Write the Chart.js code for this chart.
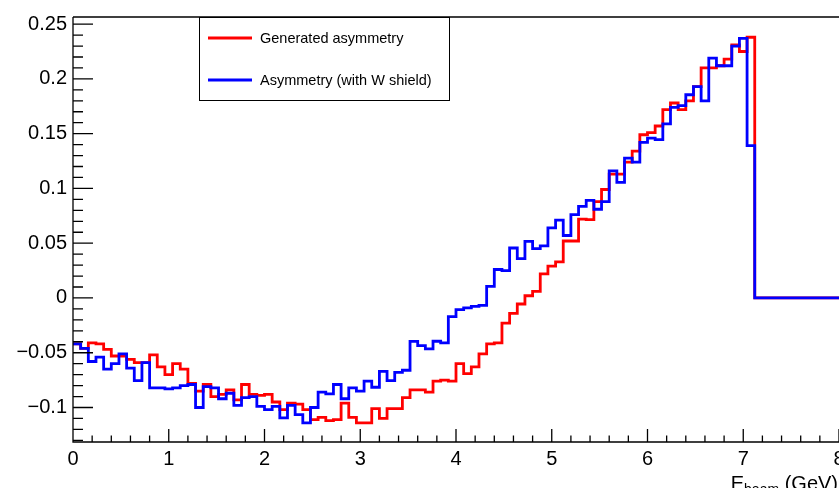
<!DOCTYPE html>
<html>
<head>
<meta charset="utf-8">
<script src="https://cdn.jsdelivr.net/npm/chart.js@4.4.1/dist/chart.umd.min.js"></script>
<style>
html,body{margin:0;padding:0;background:#fff;}
#wrap{width:839px;height:488px;position:relative;}
canvas{display:block;}
</style>
</head>
<body>
<div id="wrap"><canvas id="c" width="839" height="488"></canvas></div>
<script>
// ---- data (100 bins, 0.08 GeV wide, from 0 to 8 GeV) ----
const binWidth = 0.08;
const nBins = 100;
const xMin = 0, xMax = 8;
const yMin = -0.1315, yMax = 0.2565;

const generatedAsym = [
 -0.042,-0.046,-0.041,-0.042,-0.047,-0.053,-0.053,-0.056,-0.059,-0.059,
 -0.052,-0.063,-0.070,-0.060,-0.065,-0.078,-0.085,-0.079,-0.090,-0.088,
 -0.084,-0.093,-0.079,-0.088,-0.089,-0.088,-0.095,-0.102,-0.096,-0.097,
 -0.102,-0.111,-0.109,-0.112,-0.111,-0.096,-0.109,-0.114,-0.114,-0.101,
 -0.110,-0.101,-0.101,-0.091,-0.084,-0.084,-0.086,-0.076,-0.075,-0.076,
 -0.060,-0.069,-0.063,-0.051,-0.042,-0.041,-0.023,-0.014,-0.0055,0.002,
 0.006,0.022,0.029,0.033,0.052,0.052,0.072,0.0715,0.088,0.099,
 0.113,0.113,0.124,0.134,0.149,0.151,0.157,0.172,0.178,0.172,
 0.180,0.193,0.210,0.210,0.212,0.218,0.231,0.225,0.238,
 0,0,0,0,0,0,0,0,0,0,0
];
const shieldAsym = [
 -0.042,-0.046,-0.058,-0.054,-0.065,-0.060,-0.051,-0.064,-0.0755,-0.059,
 -0.082,-0.082,-0.083,-0.082,-0.080,-0.079,-0.100,-0.081,-0.082,-0.092,
 -0.087,-0.098,-0.091,-0.090,-0.099,-0.102,-0.099,-0.1095,-0.098,-0.1065,
 -0.114,-0.100,-0.086,-0.0876,-0.079,-0.092,-0.082,-0.085,-0.076,-0.0815,
 -0.067,-0.0755,-0.068,-0.066,-0.0396,-0.0435,-0.0465,-0.0395,-0.041,-0.017,
 -0.0106,-0.009,-0.0076,-0.0067,0.0106,0.026,0.025,0.0456,0.036,0.0517,
 0.045,0.0475,0.064,0.071,0.057,0.076,0.0836,0.089,0.081,0.088,
 0.116,0.1055,0.1277,0.124,0.142,0.146,0.1445,0.159,0.174,0.1755,
 0.1855,0.193,0.180,0.219,0.212,0.212,0.230,0.237,0.139,
 0,0,0,0,0,0,0,0,0,0,0
];
const seriesNames = ["Generated asymmetry", "Asymmetry (with W shield)"];
const seriesColors = ["#ff0000", "#0000ff"];
const xTickLabels = ["0","1","2","3","4","5","6","7","8"];
const yTickLabels = ["\u22120.1","\u22120.05","0","0.05","0.1","0.15","0.2","0.25"];

// histogram outline points: lower bin edges + final upper edge
function histPoints(vals){
  const pts = [];
  for (let k = 0; k < vals.length; k++) pts.push({x: k*binWidth, y: vals[k]});
  pts.push({x: vals.length*binWidth, y: vals[vals.length-1]});
  return pts;
}

const FONT = "'Liberation Sans', Arial, Helvetica, sans-serif";

const rootStyle = {
  id: 'rootStyle',
  beforeDraw(chart){
    const ctx = chart.ctx;
    ctx.save();
    ctx.fillStyle = '#fff';
    ctx.fillRect(0,0,chart.width,chart.height);
    ctx.restore();
  },
  afterDraw(chart){
    const ctx = chart.ctx, ca = chart.chartArea;
    const xs = chart.scales.x, ys = chart.scales.y;
    ctx.save();
    ctx.strokeStyle = '#000';
    ctx.lineWidth = 1.3;
    // frame
    ctx.beginPath();
    ctx.moveTo(ca.left, ca.top); ctx.lineTo(ca.right + 2, ca.top);
    ctx.moveTo(ca.left, ca.top); ctx.lineTo(ca.left, ca.bottom);
    ctx.lineTo(ca.right + 2, ca.bottom);
    // x ticks (inward)
    for (let i = 0; i <= 40; i++){
      const v = i*0.2;
      const px = xs.getPixelForValue(v);
      const len = (i % 5 === 0) ? 13 : 6.5;
      ctx.moveTo(px, ca.bottom); ctx.lineTo(px, ca.bottom - len);
    }
    // y ticks (inward)
    for (let i = -13; i <= 25; i++){
      const v = i/100;
      const py = ys.getPixelForValue(v);
      const len = (i % 5 === 0) ? 20 : 10;
      ctx.moveTo(ca.left, py); ctx.lineTo(ca.left + len, py);
    }
    ctx.stroke();

    // legend box
    const lx0 = 199.5, lx1 = 449.5, ly0 = 17.5, ly1 = 100.5;
    ctx.fillStyle = '#fff';
    ctx.fillRect(lx0, ly0, lx1-lx0, ly1-ly0);
    ctx.lineWidth = 1;
    ctx.strokeRect(lx0, ly0, lx1-lx0, ly1-ly0);
    const rows = [38, 80];
    ctx.font = '14.5px ' + FONT;
    ctx.textBaseline = 'middle';
    ctx.textAlign = 'left';
    for (let i = 0; i < 2; i++){
      ctx.strokeStyle = seriesColors[i];
      ctx.lineWidth = 2.8;
      ctx.beginPath();
      ctx.moveTo(208, rows[i]); ctx.lineTo(252, rows[i]);
      ctx.stroke();
      ctx.fillStyle = '#000';
      ctx.fillText(seriesNames[i], 260, rows[i] + 1);
    }

    // x-axis title  E_beam (GeV), right aligned
    ctx.fillStyle = '#000';
    ctx.textBaseline = 'alphabetic';
    const big = '20px ' + FONT, small = '14px ' + FONT;
    ctx.font = big; const wE = ctx.measureText('E').width;
    const wG = ctx.measureText(' (GeV)').width;
    ctx.font = small; const wb = ctx.measureText('beam').width;
    let tx = 838 - (wE + wb + wG);
    ctx.font = big; ctx.fillText('E', tx, 489.5); tx += wE;
    ctx.font = small; ctx.fillText('beam', tx, 494); tx += wb;
    ctx.font = big; ctx.fillText(' (GeV)', tx, 489.5);
    ctx.restore();
  }
};

new Chart(document.getElementById('c'), {
  type: 'line',
  data: {
    datasets: [
      {
        label: seriesNames[1],
        data: histPoints(shieldAsym),
        borderColor: seriesColors[1],
        borderWidth: 2.8,
        stepped: 'before',
        pointRadius: 0,
        fill: false,
        order: 0
      },
      {
        label: seriesNames[0],
        data: histPoints(generatedAsym),
        borderColor: seriesColors[0],
        borderWidth: 2.8,
        stepped: 'before',
        pointRadius: 0,
        fill: false,
        order: 1
      }
    ]
  },
  options: {
    responsive: false,
    animation: false,
    devicePixelRatio: 1,
    layout: { padding: { top: 17, right: 0, left: 0, bottom: 0 } },
    plugins: { legend: { display: false }, tooltip: { enabled: false } },
    elements: { line: { tension: 0, borderJoinStyle: 'miter', borderCapStyle: 'butt' } },
    scales: {
      x: {
        type: 'linear', min: xMin, max: xMax,
        grid: { display: false, drawTicks: false },
        border: { display: false },
        ticks: {
          stepSize: 1, includeBounds: false, maxRotation: 0, autoSkip: false,
          color: '#000', padding: 5,
          font: { size: 20, family: FONT },
          callback: (v) => { const i = Math.round(v); return (Math.abs(v - i) < 1e-6 && i >= 0 && i < xTickLabels.length) ? xTickLabels[i] : ''; }
        },
        afterFit: (s) => { s.height = 46; s.paddingLeft = 0; s.paddingRight = 0; }
      },
      y: {
        type: 'linear', min: yMin, max: yMax,
        grid: { display: false, drawTicks: false },
        border: { display: false },
        ticks: {
          stepSize: 0.05, includeBounds: false, autoSkip: false,
          color: '#000', padding: 6,
          font: { size: 20, family: FONT },
          callback: (v) => { const i = Math.round(v*20) + 2; return (Math.abs(v*20 - Math.round(v*20)) < 1e-6 && i >= 0 && i < yTickLabels.length) ? yTickLabels[i] : ''; }
        },
        afterFit: (s) => { s.width = 73; s.paddingTop = 0; s.paddingBottom = 0; }
      }
    }
  },
  plugins: [rootStyle]
});
</script>
</body>
</html>
